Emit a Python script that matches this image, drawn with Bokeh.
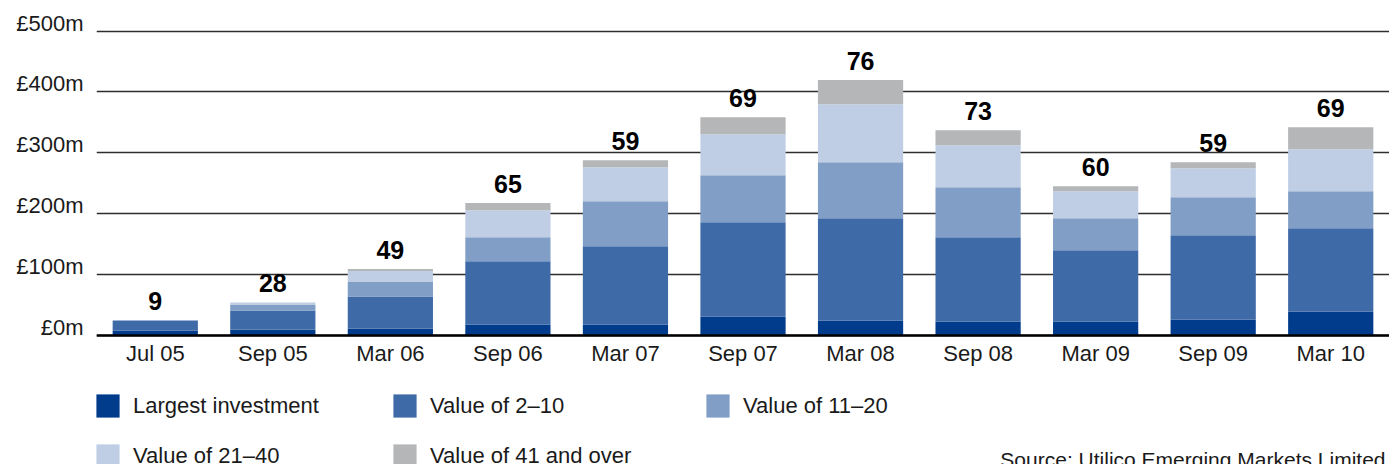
from bokeh.plotting import figure
from bokeh.models import (ColumnDataSource, FactorRange, Range1d, FixedTicker,
                          Legend, LegendItem, Label, LinearAxis)
from bokeh.core.properties import value
from bokeh.embed import file_html
from bokeh.resources import INLINE

# ---- data (values in £m) ----
dates = ["Jul 05", "Sep 05", "Mar 06", "Sep 06", "Mar 07", "Sep 07",
         "Mar 08", "Sep 08", "Mar 09", "Sep 09", "Mar 10"]
largest = [7.4, 9.0, 10.7, 17.3, 17.3, 30.5, 23.9, 22.2, 22.2, 25.5, 38.7]
val_2_10 = [16.5, 31.2, 52.7, 103.8, 128.5, 154.8, 168.0, 138.4, 117.0, 138.4, 136.8]
val_11_20 = [0.0, 10.0, 24.7, 39.5, 74.1, 77.5, 92.3, 82.4, 52.7, 62.6, 60.9]
val_21_40 = [0.0, 3.3, 17.0, 44.5, 56.1, 67.5, 95.5, 69.2, 44.5, 47.8, 69.2]
val_41_over = [0.0, 0.0, 3.3, 12.0, 11.5, 28.0, 39.6, 24.7, 8.2, 9.9, 36.2]
counts = ["9", "28", "49", "65", "59", "69", "76", "73", "60", "59", "69"]

series_keys = ["largest", "v2_10", "v11_20", "v21_40", "v41"]
series_labels = ["Largest investment", "Value of 2\u201310", "Value of 11\u201320",
                 "Value of 21\u201340", "Value of 41 and over"]
colors = ["#003B8C", "#3F6AA8", "#809EC6", "#BFCEE4", "#B5B6B8"]
y_ticks = [0, 100, 200, 300, 400, 500]
y_tick_labels = ["\u00a30m", "\u00a3100m", "\u00a3200m", "\u00a3300m", "\u00a3400m", "\u00a3500m"]
source_text = "Source: Utilico Emerging Markets Limited"

FONT = "Liberation Sans"
TEXT_COLOR = "#1a1a1a"

totals = [a + b + c + d + e for a, b, c, d, e in
          zip(largest, val_2_10, val_11_20, val_21_40, val_41_over)]

source = ColumnDataSource(dict(date=dates, largest=largest, v2_10=val_2_10,
                               v11_20=val_11_20, v21_40=val_21_40, v41=val_41_over,
                               total=totals, count=counts))

# the frame reaches down to the bottom of the canvas so that the legend
# and source note (drawn inside the frame) are not clipped
Y0, Y1 = -213, 514
LABEL_SHIFT = 13   # y tick labels sit a little above their grid lines

p = figure(x_range=FactorRange(factors=dates), y_range=Range1d(Y0, Y1),
           width=1389, height=464, output_backend="svg", toolbar_location=None,
           min_border_left=96, min_border_right=0, min_border_top=22,
           min_border_bottom=0)
p.outline_line_color = None
p.background_fill_color = "white"
p.border_fill_color = "white"

renderers = p.vbar_stack(series_keys, x="date", width=0.725, source=source,
                         fill_color=colors, line_color=None)

p.text(x="date", y="total", text="count", source=source, text_align="center",
       text_baseline="middle", y_offset=-19, text_font=value(FONT),
       text_font_style="bold", text_font_size="25px", text_color="black")

# grid
p.xgrid.grid_line_color = None
p.ygrid.grid_line_color = "#2e2e2e"
p.ygrid.grid_line_width = 1.3
p.ygrid.ticker = FixedTicker(ticks=y_ticks)

# hide default y axis, add a label axis on a slightly shifted range
p.yaxis.visible = False
p.extra_y_ranges = {"labels": Range1d(Y0 - LABEL_SHIFT, Y1 - LABEL_SHIFT)}
yax = LinearAxis(y_range_name="labels", ticker=FixedTicker(ticks=y_ticks))
yax.major_label_overrides = {t: l for t, l in zip(y_ticks, y_tick_labels)}
yax.axis_line_color = None
yax.major_tick_line_color = None
yax.minor_tick_line_color = None
yax.major_tick_in = 0
yax.major_tick_out = 0
yax.major_label_standoff = 13
yax.major_label_text_font = FONT
yax.major_label_text_font_size = "22px"
yax.major_label_text_color = TEXT_COLOR
p.add_layout(yax, "left")

# x axis fixed at zero
xax = p.xaxis[0]
xax.fixed_location = 0
xax.axis_line_color = "black"
xax.axis_line_width = 2.5
xax.major_tick_line_color = None
xax.minor_tick_line_color = None
xax.major_tick_in = 0
xax.major_tick_out = 0
xax.major_label_standoff = 6
xax.major_label_text_font = FONT
xax.major_label_text_font_size = "22px"
xax.major_label_text_color = TEXT_COLOR

# legend: one small legend per entry, placed under the bars
legend_pos = [(-3, 44), (294, 44), (607, 44), (-3, -6), (294, -6)]
for r, lab, pos in zip(renderers, series_labels, legend_pos):
    leg = Legend(items=[LegendItem(label=lab, renderers=[r])], location=pos,
                 padding=0, margin=0, spacing=0, border_line_color=None,
                 background_fill_alpha=0, glyph_width=29, glyph_height=29,
                 label_standoff=11, label_text_font=FONT,
                 label_text_font_size="22px", label_text_color=TEXT_COLOR,
                 label_height=29)
    p.add_layout(leg)

src_label = Label(x=1289, y=17, x_units="screen", y_units="screen",
                  text=source_text, text_align="right", text_baseline="top",
                  text_font=FONT, text_font_size="21px", text_color=TEXT_COLOR)
p.add_layout(src_label)

open("out.html", "w").write(file_html(p, INLINE))
